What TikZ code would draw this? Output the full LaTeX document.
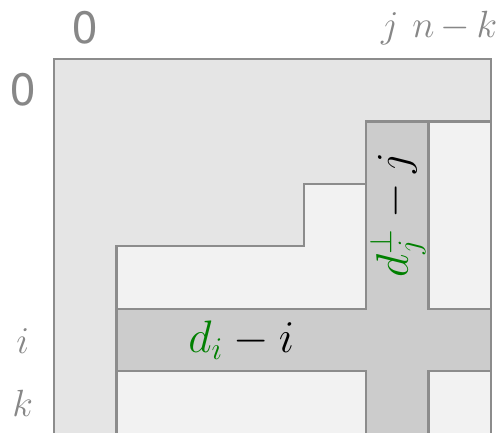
\documentclass[tikz,border=0pt]{standalone}
\usepackage{fontspec}
\setsansfont{TeX Gyre Heros}
\usepackage{amsmath}
\usepackage{amssymb}
\usetikzlibrary{calc, positioning}

\begin{document}
\begin{tikzpicture}[
    x=1cm,
    y=1cm,
    edge/.style={line width=1pt, black!45},
    idx/.style={text=black!47, font=\LARGE, inner sep=0pt},
    num/.style={text=black!47, font=\huge\sffamily, inner sep=0pt},
    band/.style={font=\huge}
]
\def\n{7}
\def\low{-6.5}

\useasboundingbox (-0.865,0.945) rectangle (7.176,-5.978);
\clip (-0.865,0.945) rectangle (7.176,-5.978);

% Corners of the staircase
\coordinate (S1) at (1,-3);
\coordinate (S2) at (4,-3);
\coordinate (S3) at (4,-2);
\coordinate (S4) at (5,-2);
\coordinate (S5) at (5,-1);
\coordinate (S6) at (\n,-1);

% Fills
\fill[black!10] (0,0) rectangle (\n,\low);
\fill[black!5] (1,\low) -- (S1) -- (S2) -- (S3) -- (S4) -- (S5) -- (S6) -- (\n,\low) -- cycle;
\fill[black!20] (1,-4) rectangle (\n,-5);
\fill[black!20] (5,-1) rectangle (6,\low);

% Outlines
\draw[edge] (1,\low) -- (S1) -- (S2) -- (S3) -- (S4) -- (S5) -- (S6);
\draw[edge] (1,-4) -- (5,-4) -- (5,-1) -- (6,-1) -- (6,-4) -- (\n,-4);
\draw[edge] (1,-5) -- (5,-5) -- (5,\low);
\draw[edge] (6,\low) -- (6,-5) -- (\n,-5);
\draw[edge] (0,\low) -- (0,0) -- (\n,0) -- (\n,\low);

% Indices
\node[num] (col0) at (0.5,0.5) {0};
\node[idx, anchor=base] (colj) at (5.38,0.35) {$j$};
\node[idx, anchor=base] (colnk) at (6.42,0.35) {$n\mkern-1mu-\mkern-1mu k$};
\node[num] (row0) at (-0.5,-0.5) {0};
\node[idx, anchor=base] (rowi) at (-0.5,-4.72) {$i$};
\node[idx, anchor=base] (rowk) at (-0.5,-5.72) {$k$};

% Band labels
\node[band] (di) at (3,-4.5) {$\color{green!50!black}d_i\color{black} - i$};
\node[band, rotate=90] (dj) at (5.5,-2.5) {$\color{green!50!black}d_j^{\perp}\color{black} - j$};
\end{tikzpicture}
\end{document}
